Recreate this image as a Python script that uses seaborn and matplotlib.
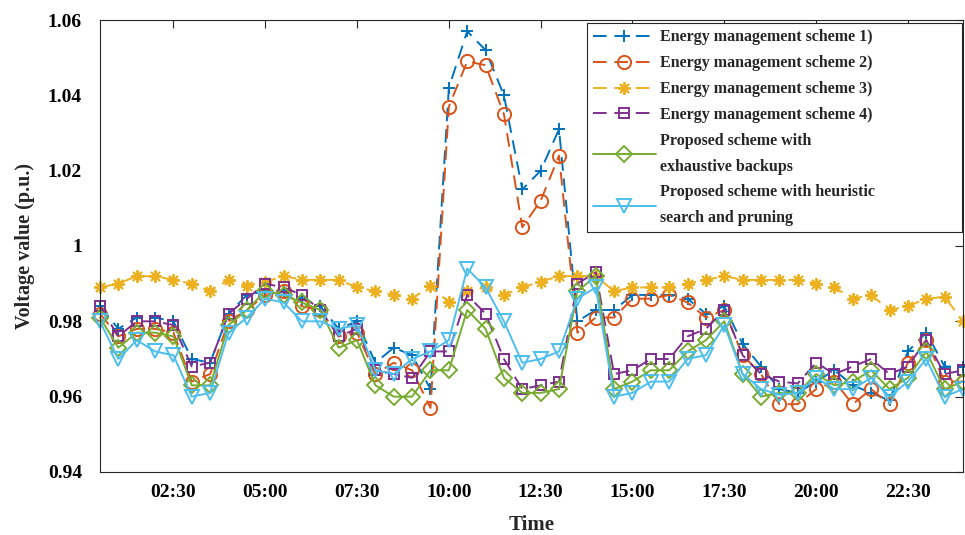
import numpy as np
import seaborn as sns
import matplotlib
matplotlib.use('Agg')
import matplotlib.pyplot as plt

# half-hour steps, 00:30 .. 24:00
hours = np.arange(0.5, 24.01, 0.5)

scheme1 = [0.984, 0.978, 0.981, 0.981, 0.980, 0.970, 0.969, 0.982, 0.987, 0.988,
           0.988, 0.986, 0.984, 0.978, 0.980, 0.969, 0.973, 0.971, 0.962, 1.042,
           1.057, 1.052, 1.040, 1.015, 1.020, 1.031, 0.980, 0.983, 0.983, 0.987,
           0.987, 0.987, 0.986, 0.982, 0.984, 0.974, 0.968, 0.962, 0.961, 0.964,
           0.967, 0.963, 0.961, 0.959, 0.972, 0.977, 0.968, 0.968]
scheme2 = [0.982, 0.976, 0.978, 0.978, 0.977, 0.964, 0.966, 0.980, 0.983, 0.987,
           0.988, 0.984, 0.983, 0.976, 0.977, 0.966, 0.969, 0.967, 0.957, 1.037,
           1.049, 1.048, 1.035, 1.005, 1.012, 1.024, 0.977, 0.981, 0.981, 0.986,
           0.986, 0.987, 0.985, 0.981, 0.983, 0.971, 0.966, 0.958, 0.958, 0.962,
           0.964, 0.958, 0.962, 0.958, 0.969, 0.975, 0.964, 0.964]
scheme3 = [0.989, 0.990, 0.992, 0.992, 0.991, 0.990, 0.988, 0.991, 0.9895, 0.9905,
           0.992, 0.991, 0.991, 0.991, 0.989, 0.988, 0.987, 0.986, 0.9895, 0.985,
           0.988, 0.989, 0.987, 0.989, 0.9905, 0.992, 0.992, 0.992, 0.988, 0.989,
           0.989, 0.989, 0.990, 0.991, 0.992, 0.991, 0.991, 0.991, 0.991, 0.990,
           0.989, 0.986, 0.987, 0.983, 0.984, 0.986, 0.9865, 0.980]
scheme4 = [0.984, 0.976, 0.980, 0.980, 0.979, 0.968, 0.969, 0.982, 0.986, 0.990,
           0.989, 0.987, 0.983, 0.976, 0.978, 0.967, 0.966, 0.965, 0.972, 0.972,
           0.987, 0.982, 0.970, 0.962, 0.963, 0.964, 0.990, 0.993, 0.966, 0.967,
           0.970, 0.970, 0.976, 0.978, 0.983, 0.971, 0.966, 0.964, 0.9635, 0.969,
           0.966, 0.968, 0.970, 0.966, 0.968, 0.975, 0.966, 0.967]
exhaustive = [0.981, 0.973, 0.977, 0.977, 0.976, 0.963, 0.963, 0.979, 0.983, 0.988,
              0.987, 0.985, 0.983, 0.973, 0.975, 0.963, 0.960, 0.960, 0.967, 0.967,
              0.983, 0.978, 0.965, 0.961, 0.961, 0.962, 0.988, 0.992, 0.962, 0.964,
              0.967, 0.967, 0.972, 0.975, 0.980, 0.966, 0.960, 0.961, 0.961, 0.966,
              0.963, 0.964, 0.967, 0.962, 0.965, 0.972, 0.962, 0.964]
heuristic = [0.980, 0.970, 0.975, 0.972, 0.971, 0.960, 0.961, 0.977, 0.981, 0.986,
             0.985, 0.980, 0.980, 0.978, 0.979, 0.967, 0.966, 0.970, 0.972, 0.975,
             0.994, 0.989, 0.980, 0.969, 0.970, 0.972, 0.986, 0.989, 0.960, 0.961,
             0.964, 0.964, 0.970, 0.971, 0.979, 0.966, 0.962, 0.9605, 0.961, 0.965,
             0.962, 0.962, 0.965, 0.960, 0.964, 0.970, 0.960, 0.962]

labels = ['Energy management scheme 1)', 'Energy management scheme 2)',
          'Energy management scheme 3)', 'Energy management scheme 4)',
          'Proposed scheme with\nexhaustive backups',
          'Proposed scheme with heuristic\nsearch and pruning']

tick_hours = [2.5, 5, 7.5, 10, 12.5, 15, 17.5, 20, 22.5]
tick_labels = ['02:30', '05:00', '07:30', '10:00', '12:30', '15:00', '17:30', '20:00', '22:30']
ytick_vals = [0.94, 0.96, 0.98, 1.0, 1.02, 1.04, 1.06]
ytick_labels = ['0.94', '0.96', '0.98', '1', '1.02', '1.04', '1.06']

sns.set_style('white')
plt.rcParams['font.family'] = ['Liberation Serif', 'DejaVu Serif']
plt.rcParams['font.weight'] = 'bold'

fig = plt.figure(figsize=(9.65, 5.35), dpi=100)
ax = fig.add_axes([0.1036, 0.1178, 0.8943, 0.8448])

colors = ['#0072BD', '#D95319', '#EDB120', '#7E2F8E', '#77AC30', '#4DBEEE']
markers = ['+', 'o', (8, 2, 0), 's', 'D', 'v']
sizes = [9, 9.5, 9, 7.5, 8, 10]
dashed = (0, (7, 4))
styles = [dashed, dashed, dashed, dashed, '-', '-']
all_vals = [scheme1, scheme2, scheme3, scheme4, exhaustive, heuristic]

for vals, lab, c, m, ms, ls in zip(all_vals, labels, colors, markers, sizes, styles):
    sns.lineplot(x=hours, y=vals, ax=ax, color=c, marker=m, linestyle=ls,
                 linewidth=1.4, markersize=ms, markeredgecolor=c,
                 markerfacecolor='none', markeredgewidth=1.4,
                 label=lab, clip_on=False)

ax.set_xlim(0.5, 24)
ax.set_ylim(0.94, 1.06)
ax.set_xticks(tick_hours)
ax.set_xticklabels(tick_labels)
ax.set_yticks(ytick_vals)
ax.set_yticklabels(ytick_labels)
ax.tick_params(direction='in', length=6, width=0.8, colors='#262626',
               top=True, right=True, labelsize=14)
ax.tick_params(axis='x', pad=9)
ax.tick_params(axis='y', pad=13)
for t in ax.get_xticklabels() + ax.get_yticklabels():
    t.set_fontweight('bold')
    t.set_color('black')
for s in ax.spines.values():
    s.set_color('#262626')
    s.set_linewidth(0.8)

ax.set_xlabel('Time', fontsize=15, fontweight='bold', labelpad=10)
ax.set_ylabel('Voltage value (p.u.)', fontsize=14.5, fontweight='bold', labelpad=9)

leg = ax.legend(loc='upper right', bbox_to_anchor=(0.5643, 0.0, 0.435, 0.9934),
                mode='expand', frameon=True, fancybox=False,
                edgecolor='#262626', framealpha=1, borderaxespad=0,
                handlelength=3.9, handletextpad=0.3, labelspacing=0.62,
                prop={'weight': 'bold', 'size': 11.5})
leg.get_frame().set_linewidth(0.8)
for t in leg.get_texts():
    t.set_linespacing(1.8)

fig.savefig('out.png', dpi=100)
